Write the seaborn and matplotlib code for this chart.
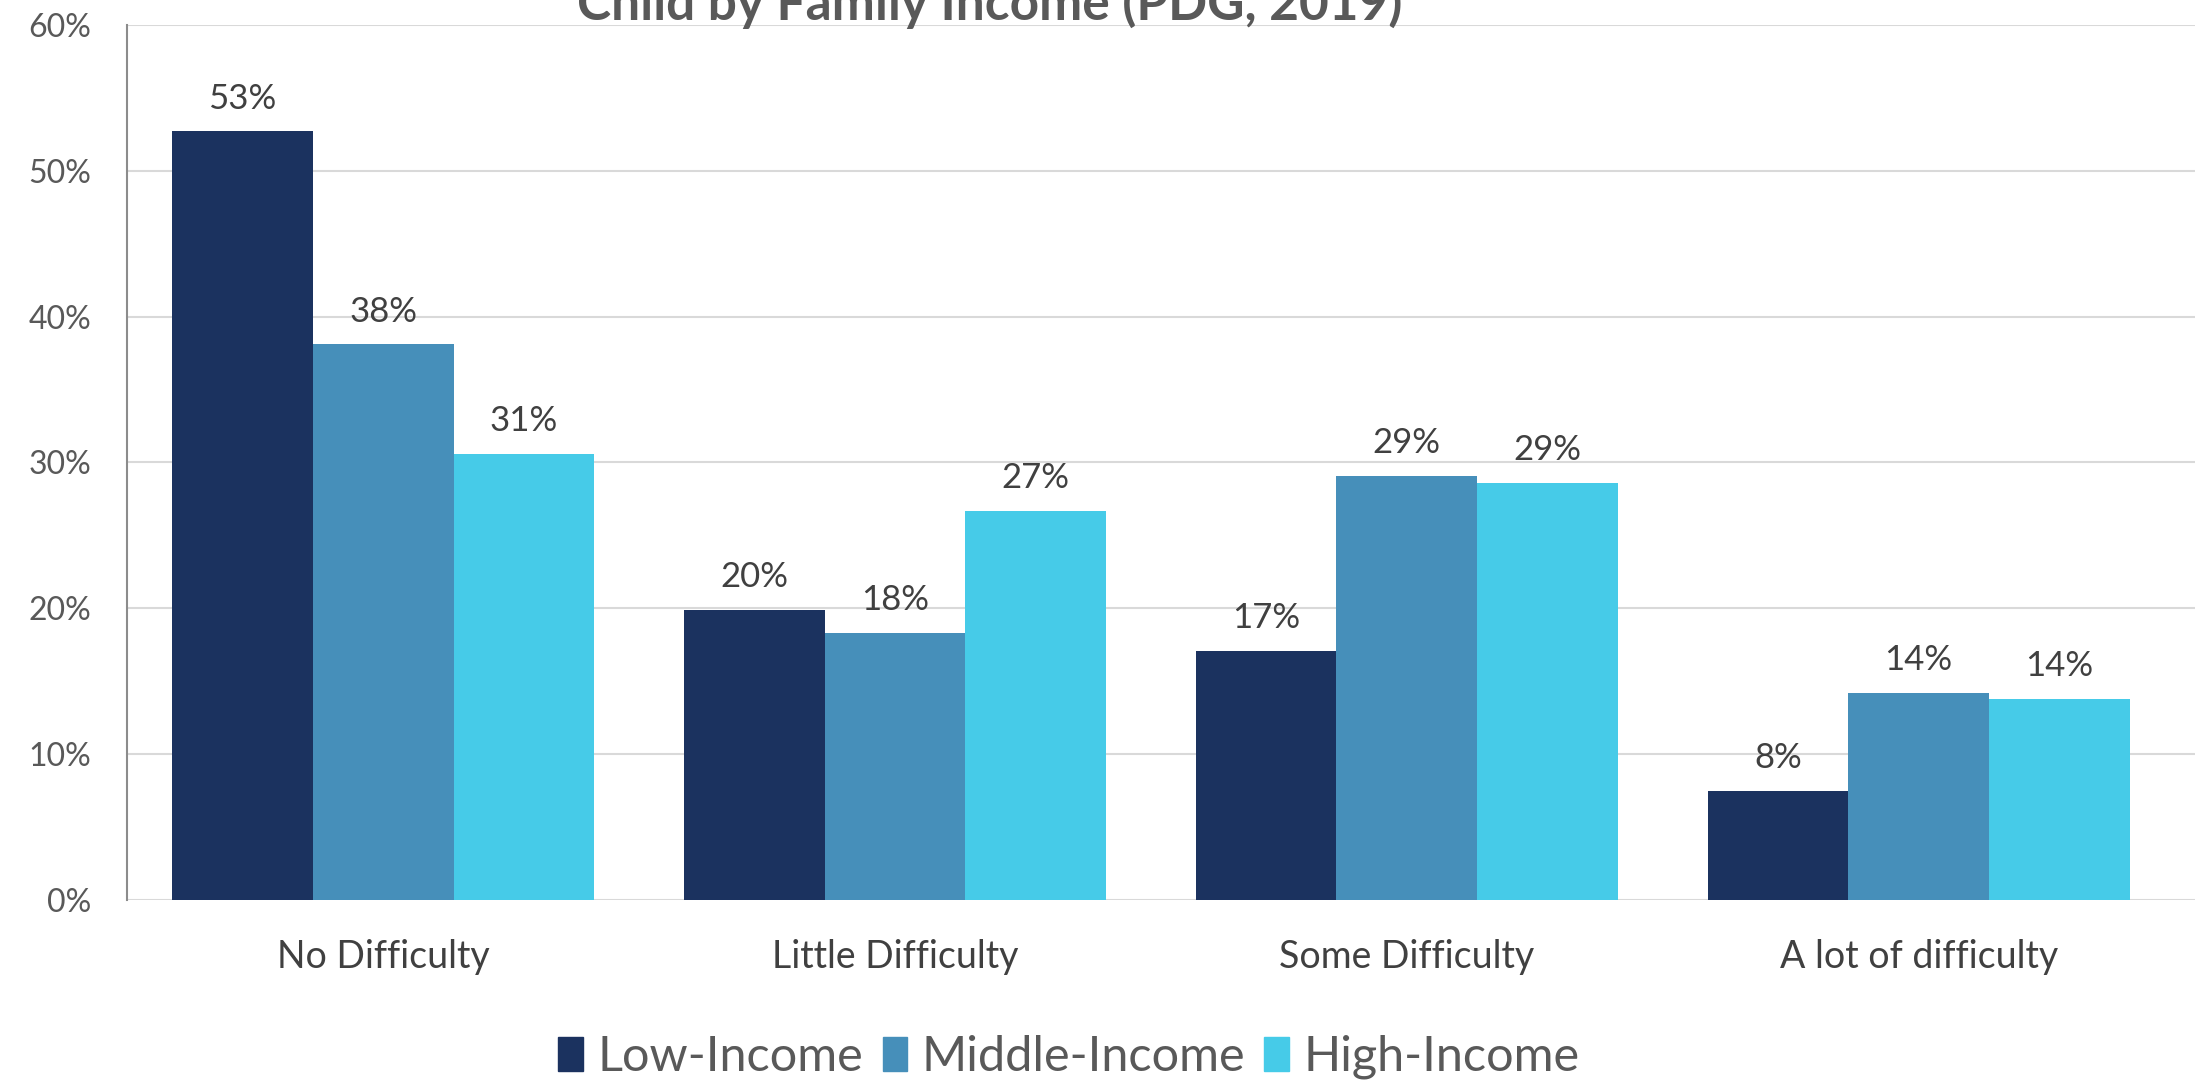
import pandas as pd
import numpy as np
import matplotlib
matplotlib.use("Agg")
import matplotlib.pyplot as plt
import seaborn as sns

categories = ["No Difficulty", "Little Difficulty", "Some Difficulty", "A lot of difficulty"]
groups = ["Low-Income", "Middle-Income", "High-Income"]
low_income = [52.7, 19.9, 17.1, 7.5]
middle_income = [38.1, 18.3, 29.1, 14.2]
high_income = [30.6, 26.7, 28.6, 13.8]
colors = ["#1B325F", "#468FBA", "#46CBE8"]
yticks = [0, 10, 20, 30, 40, 50, 60]

df = pd.DataFrame({
    "category": categories * 3,
    "group": [g for g in groups for _ in categories],
    "value": low_income + middle_income + high_income,
})

sns.set_theme(style="white")
plt.rcParams["font.family"] = ["Lato", "DejaVu Sans"]

fig = plt.figure(figsize=(21.95, 10.85), dpi=100)
ax = fig.add_axes([0.058, 0.1705, 0.942, 0.8065])

sns.barplot(data=df, x="category", y="value", hue="group", order=categories,
            hue_order=groups, palette=colors, width=0.825, gap=0,
            saturation=1, linewidth=0, ax=ax, legend=True)

# value labels above bars
for cont in ax.containers:
    vals = [b.get_height() for b in cont]
    ax.bar_label(cont, labels=[f"{v:.0f}%" for v in vals], padding=12,
                 fontsize=25, color="#404040")

ax.set_ylim(0, 60)
ax.set_xlim(-0.5, 3.54)
ax.set_yticks(yticks)
ax.set_yticklabels([f"{t}%" for t in yticks], fontsize=23, color="#595959")
ax.tick_params(axis="x", labelsize=27, labelcolor="#404040", pad=28, length=0)
ax.tick_params(axis="y", length=0, pad=26)
ax.set_xlabel("")
ax.set_ylabel("")
ax.yaxis.grid(True, color="#D9D9D9", linewidth=1.5)
ax.set_axisbelow(True)
for s in ["top", "right", "bottom"]:
    ax.spines[s].set_visible(False)
ax.spines["left"].set_color("#8C8C8C")
ax.spines["left"].set_linewidth(1.5)

ax.legend_.remove()
handles = [plt.Rectangle((0, 0), 1, 1, color=c) for c in colors]
fig.legend(handles, groups, loc="center", bbox_to_anchor=(0.487, 0.026),
           ncol=3, frameon=False, fontsize=35, handlelength=0.5,
           handleheight=0.7, handletextpad=0.3, columnspacing=0.4,
           labelcolor="#595959")

# title sits mostly above the canvas, as in the source image
fig.text(0.451, 1 - 20 / 1085, "Child by Family Income (PDG, 2019)",
         ha="center", va="baseline", fontsize=37, fontweight="bold",
         color="#595959")

fig.savefig("out.png", dpi=100)
